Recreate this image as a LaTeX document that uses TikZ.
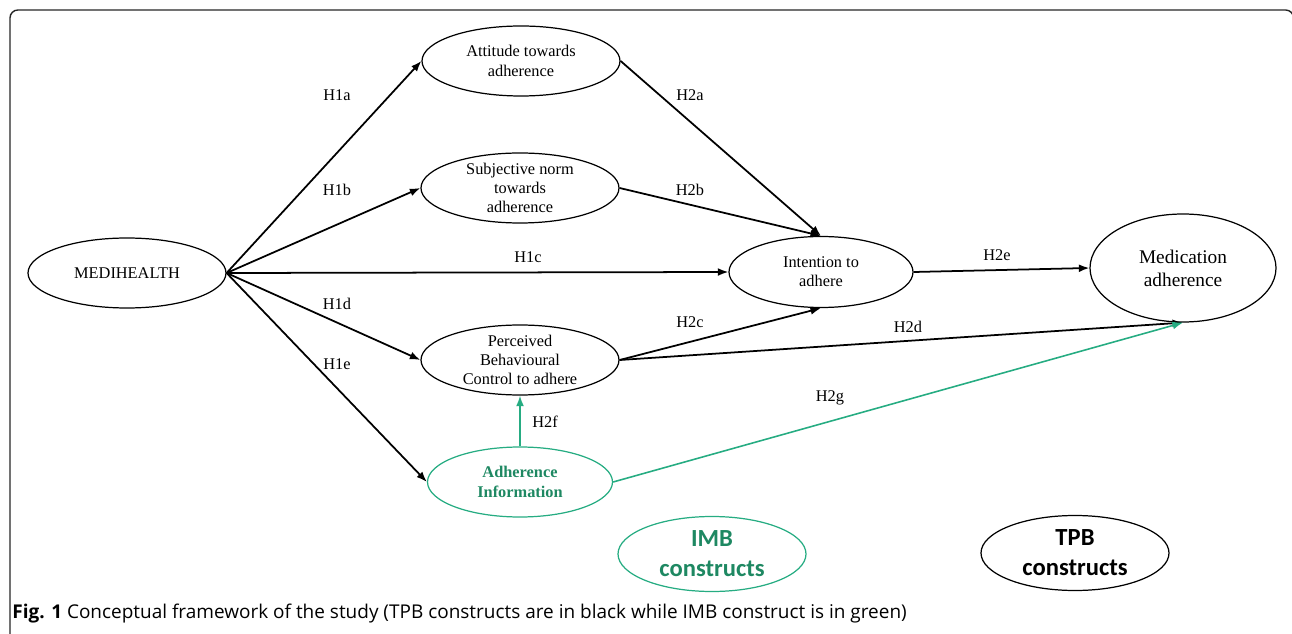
\documentclass[tikz,border=0pt]{standalone}
\usepackage{fontspec}
\setmainfont{Liberation Serif}
\newfontfamily\capfont{Open Sans}
\newfontfamily\keyfont{Carlito}
\usepackage{xcolor}
\usepackage{tikz}
\usetikzlibrary{arrows.meta,shapes.geometric}
\definecolor{imbgreen}{RGB}{38,172,130}
\definecolor{imbtext}{RGB}{30,136,98}

\begin{document}
\begin{tikzpicture}[
  x=1cm,y=1cm,>=Latex,
  construct/.style={draw,ellipse,line width=.7pt,align=center,inner xsep=0pt,
    inner ysep=-6pt,font=\fontsize{9.3}{11}\selectfont,minimum width=3.96cm,
    minimum height=1.4cm},
  imbnode/.style={construct,draw=imbgreen,text=imbtext,
    font=\fontsize{9.3}{11}\selectfont\bfseries},
  keynode/.style={draw,ellipse,line width=.7pt,align=center,inner sep=0pt,
    font=\keyfont\fontsize{14}{17}\selectfont\bfseries,minimum width=3.76cm,
    minimum height=1.5cm},
  edge/.style={-{Latex[length=6pt,width=4.5pt]},line width=1pt},
  greenedge/.style={edge,draw=imbgreen,line width=.9pt},
  hyp/.style={font=\fontsize{9.3}{11}\selectfont,inner sep=1pt}
]
\useasboundingbox (0,0) rectangle (25.84,-12.68);
\draw[line width=.8pt,draw=black!85,rounded corners=4.5pt]
  (.2,-.2) rectangle (25.87,-13.2);
\node[construct] (medi) at (2.54,-5.46) {MEDIHEALTH};
\node[construct] (attitude) at (10.42,-1.22) {Attitude towards\\adherence};
\node[construct] (subjective) at (10.40,-3.76) {Subjective norm\\towards\\adherence};
\node[construct,minimum width=3.68cm,minimum height=1.42cm] (intention)
  at (16.42,-5.44) {Intention to\\adhere};
\node[construct,minimum width=3.72cm,minimum height=2.16cm,
  font=\fontsize{11}{13}\selectfont] (medication) at (23.66,-5.36)
  {Medication\\adherence};
\node[construct] (perceived) at (10.40,-7.20) {Perceived\\Behavioural\\Control to adhere};
\node[imbnode,minimum width=3.70cm] (adhinfo) at (10.40,-9.64)
  {Adherence\\Information};
\node[keynode,draw=imbgreen,text=imbtext] (imbkey) at (14.24,-11.08) {IMB\\constructs};
\node[keynode] (tpbkey) at (21.50,-11.06) {TPB\\constructs};
\node[hyp] (h1a) at (6.74,-1.90) {H1a};
\node[hyp] (h1b) at (6.74,-3.80) {H1b};
\node[hyp] (h1c) at (10.56,-5.14) {H1c};
\node[hyp] (h1d) at (6.74,-6.08) {H1d};
\node[hyp] (h1e) at (6.74,-7.28) {H1e};
\node[hyp] (h2a) at (13.80,-1.90) {H2a};
\node[hyp] (h2b) at (13.80,-3.80) {H2b};
\node[hyp] (h2c) at (13.80,-6.44) {H2c};
\node[hyp] (h2d) at (18.16,-6.54) {H2d};
\node[hyp] (h2e) at (19.94,-5.10) {H2e};
\node[hyp] (h2f) at (10.90,-8.44) {H2f};
\node[hyp] (h2g) at (16.60,-7.96) {H2g};
\node[anchor=west,inner sep=0pt,font=\capfont\fontsize{10.8}{13}\selectfont]
  (caption) at (.24,-12.28)
  {\textbf{Fig. 1} Conceptual framework of the study (TPB constructs are in black while IMB construct is in green)};
\draw[edge] (medi.east) -- (attitude.west);
\draw[edge] (medi.east) -- (subjective.west);
\draw[edge] (medi.east) -- (intention.west);
\draw[edge] (medi.east) -- (perceived.west);
\draw[edge] (medi.east) -- (adhinfo.west);
\draw[edge] (attitude.east) -- (intention.north);
\draw[edge] (subjective.east) -- (intention.north);
\draw[edge] (perceived.east) -- (intention.south);
\draw[edge] (perceived.east) -- (medication.south);
\draw[edge] (intention.east) -- (medication.west);
\draw[greenedge] (adhinfo.north) -- (perceived.south);
\draw[greenedge] (adhinfo.east) -- (medication.south);
\end{tikzpicture}
\end{document}
